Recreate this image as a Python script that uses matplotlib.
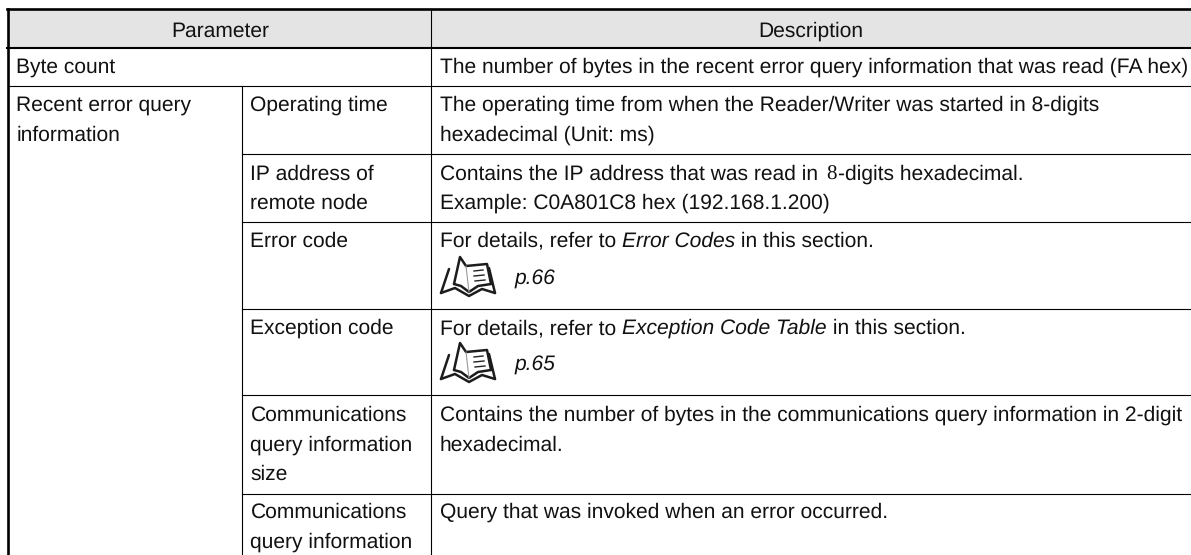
#!/usr/bin/env python
"""Parameter / Description table."""
import matplotlib
matplotlib.use("Agg")
import matplotlib.pyplot as plt
from matplotlib.patches import Rectangle

plt.rcParams["text.hinting"] = "no_hinting"
plt.rcParams["text.hinting_factor"] = 1

W, H = 1191, 555
FONT = "Liberation Sans"
FS = 15.3
TEXT = "#111111"

col_left = 8
col_sub = 242.3
col_desc = 431.3
row_edges = [9, 47.7, 86, 154.3, 222.3, 309.3, 395.3, 493.7]

headers = ["Parameter", "Description"]
byte_label = "Byte count"
byte_desc = "The number of bytes in the recent error query information that was read (FA hex)"
group_label = ["Recent error query", "information"]

sub_labels = [
    ["Operating time"],
    ["IP address of", "remote node"],
    ["Error code"],
    ["Exception code"],
    ["Communications", "query information", "size"],
    ["Communications", "query information"],
]
# first baseline of each row
row_baselines = [111, 179.5, 246.7, 334, 421, 517.7]

# each line is a list of (text, style) runs
desc_lines = [
    [[("The operating time from when the Reader/Writer was started in 8-digits", "n")],
     [("hexadecimal (Unit: ms)", "n")]],
    [[("Contains the IP address that was read in ", "n"), ("8", "s"), ("-digits hexadecimal.", "n")],
     [("Example: C0A801C8 hex (192.168.1.200)", "n")]],
    [[("For details, refer to ", "n"), ("Error Codes", "i"), (" in this section.", "n")]],
    [[("For details, refer to ", "n"), ("Exception Code Table", "i"), (" in this section.", "n")]],
    [[("Contains the number of bytes in the communications query information in 2-digit", "n")],
     [("hexadecimal.", "n")]],
    [[("Query that was invoked when an error occurred.", "n")]],
]
page_labels = ["p.66", "p.65"]
page_baselines = [284.7, 371]
book_tops = [257, 343]


def draw_runs(ax, x, y, runs):
    rend = ax.figure.canvas.get_renderer()
    for s, style in runs:
        kw = {"family": FONT}
        if style == "i":
            kw["style"] = "italic"
        if style == "s":
            # the lone serif digit sits in a wider slot
            kw["family"] = "Liberation Serif"
            x += 2
        ax.text(x, y, s, fontsize=FS, color=TEXT, va="baseline", ha="left", **kw)
        # trailing spaces are not measured, so measure with a guard character
        g = ax.text(0, 0, s + "|", fontsize=FS, **kw)
        b = ax.text(0, 0, "|", fontsize=FS, **kw)
        x += g.get_window_extent(rend).width - b.get_window_extent(rend).width
        if style == "s":
            x += 2
        g.remove()
        b.remove()


def draw_book(ax, x, y):
    """Open book icon, x/y = top left of the icon."""
    k = dict(color="#1c1c1c", lw=1.8, solid_capstyle="round", solid_joinstyle="round")
    outlines = [
        [(1, 36), (9, 12)],                                  # left cover edge
        [(55, 36), (49, 11)],                                # right cover edge
        [(1, 36), (15, 31), (29, 39), (42, 32), (55, 36)],   # bottom cover
        [(14, 27), (20, 0), (26, 9), (47, 7), (51, 27)],     # raised page + right page top
        [(14, 27), (21, 29), (29, 35), (38, 29), (51, 27)],  # page bottoms
    ]
    for pts in outlines:
        ax.plot([x + p[0] for p in pts], [y + p[1] for p in pts], **k)
    ax.plot([x + 26, x + 29], [y + 9, y + 35], color="#999999", lw=0.8)
    for dy, x0, x1 in [(14, 34, 43), (19, 34, 44), (24, 35, 45)]:
        ax.plot([x + x0, x + x1], [y + dy, y + dy - 1], color="#222222", lw=1.0)


fig = plt.figure(figsize=(W / 100, H / 100), dpi=100)
ax = fig.add_axes([0, 0, 1, 1])
ax.set_xlim(0, W)
ax.set_ylim(H, 0)
ax.axis("off")
fig.canvas.draw()

ax.add_patch(Rectangle((col_left, row_edges[0]), W - col_left, row_edges[1] - row_edges[0],
                       facecolor="#e4e4e4", edgecolor="none"))

# heavy rules
ax.plot([col_left - 1, W], [row_edges[0], row_edges[0]], color="black", lw=1.9)
ax.plot([col_left - 1, W], [row_edges[1], row_edges[1]], color="black", lw=1.5)
ax.plot([col_left, col_left], [row_edges[0], H], color="black", lw=1.9)

# thin rules
ax.plot([col_left, W], [row_edges[2], row_edges[2]], color="black", lw=0.8)
for yy in row_edges[3:]:
    ax.plot([col_sub, W], [yy, yy], color="black", lw=0.8)
ax.plot([col_sub, col_sub], [row_edges[2], H], color="black", lw=0.8)
ax.plot([col_desc, col_desc], [row_edges[0], H], color="black", lw=0.8)

ax.text(220, 36.7, headers[0], fontsize=FS, family=FONT, color=TEXT, ha="center", va="baseline")
ax.text(811, 36.7, headers[1], fontsize=FS, family=FONT, color=TEXT, ha="center", va="baseline")

LINE = 29.5
ax.text(16.5, 72.7, byte_label, fontsize=FS, family=FONT, color=TEXT, va="baseline")
draw_runs(ax, 440, 72.7, [(byte_desc, "n")])
for i, s in enumerate(group_label):
    ax.text(16.5, 111 + i * LINE, s, fontsize=FS, family=FONT, color=TEXT, va="baseline")

for i, lines in enumerate(sub_labels):
    for j, s in enumerate(lines):
        ax.text(250.5, row_baselines[i] + j * LINE, s, fontsize=FS, family=FONT, color=TEXT, va="baseline")

for i, lines in enumerate(desc_lines):
    for j, runs in enumerate(lines):
        draw_runs(ax, 440, row_baselines[i] + j * LINE, runs)

for label, base, top in zip(page_labels, page_baselines, book_tops):
    draw_book(ax, 440, top)
    ax.text(515, base, label, fontsize=FS, family=FONT, style="italic", color=TEXT, va="baseline")

fig.savefig("out.png", dpi=100)
